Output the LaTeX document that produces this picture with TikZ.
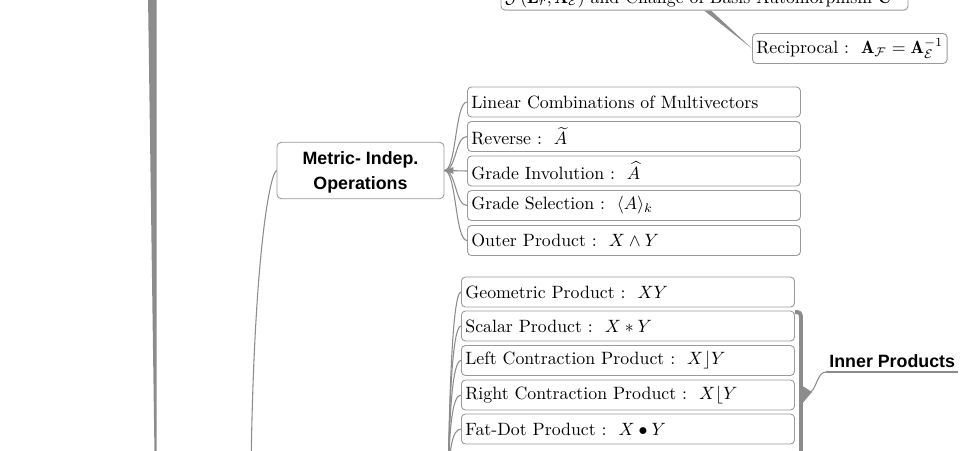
\documentclass[tikz,border=0pt]{standalone}
\usepackage{amsmath,amssymb}
\usepackage{fontspec}
\newfontfamily\headfont{Liberation Sans}
\usepackage{tikz}
\usetikzlibrary{positioning,calc}
\definecolor{linegray}{HTML}{8C8C8C}
\definecolor{boxgray}{HTML}{9A9A9A}
\tikzset{
  leaf/.style={draw=boxgray, line width=0.5pt, rounded corners=2.2pt, fill=white, inner xsep=2.2pt, inner ysep=0pt, minimum height=16.8pt, text width=182.6pt, align=left, anchor=west},
  opbox/.style={draw=boxgray, line width=0.5pt, rounded corners=2.5pt, fill=white, minimum width=93.8pt, minimum height=30.9pt, align=center, font=\headfont\bfseries},
  smallbox/.style={draw=boxgray, line width=0.5pt, rounded corners=2.2pt, fill=white, inner xsep=2.2pt, inner ysep=0pt, minimum height=16.8pt},
  branch/.style={draw=linegray, line width=0.6pt},
}

\begin{document}
\begin{tikzpicture}[x=0.5615pt, y=-0.5615pt]
\useasboundingbox (0,0) rectangle (980,450);
\clip (0,0) rectangle (980,450);
% trunk on the left
\fill[linegray] (148,-5) -- (156.7,-5) -- (156.7,455) -- (154.5,455) -- cycle;
% top branch
\node[smallbox, anchor=south, minimum height=0pt, inner ysep=1.4pt, text width=224.1pt, align=left] (jmap) at (704.5,10.5) {$\mathcal{J}(\mathbf{E}_r,\mathbf{A}_{\mathcal{E}})$ and Change of Basis Automorphism $\mathbf{C}$};
\node[smallbox, anchor=west] (recip) at (752,48.5) {Reciprocal :\ \ $\mathbf{A}_{\mathcal{F}}=\mathbf{A}_{\mathcal{E}}^{-1}$};
\fill[linegray] ($(jmap.south)+(-0.5,0)$) -- ($(jmap.south)+(6.5,0)$) -- (recip.west) -- cycle;
% metric independent operations
\node[opbox] (metric) at (360.5,170.5) {\rule{0pt}{9pt}Metric- Indep.\\[2pt]Operations};
\coordinate (metricroot) at (251,470);
\draw[branch] (metric.west) .. controls +(-6,2) and +(3,-220) .. (metricroot);
\node[leaf] (lincomb) at (467,102) {Linear Combinations of Multivectors};
\node[leaf] (rev) at (467,136.5) {Reverse :\ \ $\widetilde{A}$};
\node[leaf] (ginv) at (467,171) {Grade Involution :\ \ $\widehat{A}$};
\node[leaf] (gsel) at (467,205.5) {Grade Selection :\ \ $\langle A\rangle_k$};
\node[leaf] (outer) at (467,240.5) {Outer Product :\ \ $X\wedge Y$};
\draw[branch] (metric.east) .. controls +(12,0) and +(-12,0) .. (lincomb.west);
\draw[branch] (metric.east) .. controls +(12,0) and +(-12,0) .. (rev.west);
\draw[branch] (metric.east) .. controls +(12,0) and +(-12,0) .. (ginv.west);
\draw[branch] (metric.east) .. controls +(12,0) and +(-12,0) .. (gsel.west);
\draw[branch] (metric.east) .. controls +(12,0) and +(-12,0) .. (outer.west);
\fill[linegray] (metric.east) -- ++(9,-3.5) -- ++(0,7) -- cycle;
% products
\node[leaf] (geo) at (461,292) {Geometric Product :\ \ $XY$};
\node[leaf] (scal) at (461,326) {Scalar Product :\ \ $X*Y$};
\node[leaf] (lcont) at (461,360.5) {Left Contraction Product :\ \ $X\rfloor Y$};
\node[leaf] (rcont) at (461,395) {Right Contraction Product :\ \ $X\lfloor Y$};
\node[leaf] (fatdot) at (461,429) {Fat-Dot Product :\ \ $X\bullet Y$};
\coordinate (prodroot) at (448,490);
\draw[branch] (geo.west) .. controls +(-9,0) and +(1,-80) .. (prodroot);
\draw[branch] (scal.west) .. controls +(-9,0) and +(1,-80) .. (prodroot);
\draw[branch] (lcont.west) .. controls +(-9,0) and +(1,-70) .. (prodroot);
\draw[branch] (rcont.west) .. controls +(-9,0) and +(1,-60) .. (prodroot);
\draw[branch] (fatdot.west) .. controls +(-9,0) and +(1,-40) .. (prodroot);
% inner products brace
\node[font=\headfont\bfseries, anchor=south west, inner xsep=1.7pt, inner ysep=2pt] (inner) at (826,372) {Inner Products};
\draw[branch] (inner.south west) -- (inner.south east);
\draw[linegray, line width=2.2pt] (795,312) .. controls (800,312) and (801,313) .. (801,319) -- (801,460);
\fill[linegray] (801,385) -- (812,392) -- (801,405) -- cycle;
\draw[branch] (811,392) .. controls (817,386) and (818,372) .. (inner.south west);
\end{tikzpicture}
\end{document}
